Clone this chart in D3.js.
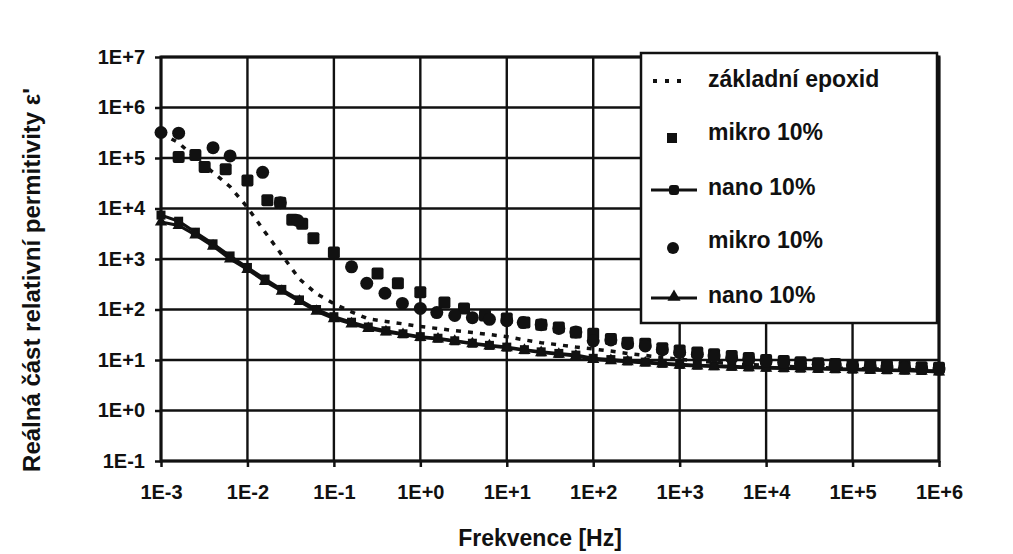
<!DOCTYPE html>
<html>
<head>
<meta charset="utf-8">
<script src="https://cdn.jsdelivr.net/npm/d3@7"></script>
<style>
  body { margin: 0; background: #fff; }
  text { font-family: "Liberation Sans", Arial, sans-serif; font-weight: bold; fill: #111; }
</style>
</head>
<body>
<svg class="chart"></svg>
<script>
// frequencies [Hz], 5 points per decade
const freq = [0.001, 0.0016, 0.0025, 0.004, 0.0063, 0.01, 0.016, 0.025, 0.04, 0.063,
  0.1, 0.16, 0.25, 0.4, 0.63, 1, 1.6, 2.5, 4, 6.3,
  10, 16, 25, 40, 63, 100, 160, 250, 400, 630,
  1000, 1600, 2500, 4000, 6300, 1e4, 1.6e4, 2.5e4, 4e4, 6.3e4,
  1e5, 1.6e5, 2.5e5, 4e5, 6.3e5, 1e6]

const epoxid = [3.1e5, 2.0e5, 1.0e5, 5.2e4, 2.7e4, 1.05e4, 3400, 1200, 400, 205,
  130, 90, 65, 58, 52, 46, 42, 38, 35, 32,
  29, 25, 22, 20, 18, 16.5, 15, 13.5, 12.3, 11.2,
  10.3, 9.6, 9.0, 8.5, 8.1, 7.8, 7.5, 7.3, 7.1, 6.9,
  6.8, 6.7, 6.6, 6.5, 6.4, 6.3]

const nanoSq = [7400, 5600, 3400, 2000, 1150, 680, 400, 250, 155, 100,
  72, 56, 45, 38, 33, 29, 27, 24, 21.5, 19.5,
  18, 16, 14.5, 13.5, 12.5, 10.8, 10.2, 9.6, 9.1, 8.6,
  8.2, 7.9, 7.7, 7.5, 7.3, 7.2, 7.0, 6.9, 6.8, 6.7,
  6.6, 6.5, 6.4, 6.3, 6.2, 6.1]

const nanoTri = [5400, 4600, 3000, 1800, 1000, 620, 360, 230, 145, 92,
  66, 52, 42, 36, 32, 28, 26, 23.5, 21, 19,
  17.5, 15.5, 14, 13, 12, 10.2, 9.7, 9.2, 8.7, 8.3,
  7.9, 7.6, 7.4, 7.2, 7.0, 6.9, 6.8, 6.7, 6.6, 6.5,
  6.4, 6.3, 6.2, 6.1, 6.0, 5.8]

const mikroSqF = [0.0016, 0.0025, 0.0032, 0.0056, 0.01, 0.017, 0.024, 0.033, 0.043, 0.058,
  0.1, 0.32, 0.55, 1, 1.9, 3.2, 5.6, 10,
  16, 25, 40, 63, 100, 160, 250, 400, 630,
  1000, 1600, 2500, 4000, 6300, 1e4, 1.6e4, 2.5e4, 4e4, 6.3e4,
  1e5, 1.6e5, 2.5e5, 4e5, 6.3e5, 1e6]
const mikroSqV = [1.05e5, 1.15e5, 6.6e4, 6.0e4, 3.6e4, 1.45e4, 1.3e4, 6000, 5000, 2570,
  1350, 515, 330, 220, 138, 105, 76, 66,
  55, 50, 44, 35, 33, 26, 22, 21, 17,
  15.5, 14, 13, 12, 11, 10, 9.5, 9, 8.6, 8.3,
  8.0, 7.8, 7.6, 7.4, 7.2, 7.0]

const mikroCiF = [0.001, 0.0016, 0.004, 0.0063, 0.015, 0.024, 0.038,
  0.16, 0.24, 0.39, 0.62, 1, 1.55, 2.5, 4, 6.3, 10,
  15.5, 25, 40, 63, 100, 160, 250, 400, 630,
  1000, 1600, 2500, 4000, 6300, 1e4, 1.6e4, 2.5e4, 4e4, 6.3e4,
  1e5, 1.6e5, 2.5e5, 4e5, 6.3e5, 1e6]
const mikroCiV = [3.2e5, 3.1e5, 1.6e5, 1.1e5, 5.2e4, 1.3e4, 5800,
  700, 330, 210, 132, 105, 87, 76, 69, 64, 60,
  55, 50, 42, 36, 24, 25, 21, 19, 16,
  14, 13, 12, 11, 10.5, 9.5, 9, 8.5, 8.2, 7.9,
  7.6, 7.4, 7.2, 7.0, 6.8, 6.6]

const xTicks = [1e-3, 1e-2, 1e-1, 1, 10, 100, 1e3, 1e4, 1e5, 1e6]
const yTicks = [1e-1, 1, 10, 100, 1e3, 1e4, 1e5, 1e6, 1e7]
const legendLabels = ['základní epoxid', 'mikro 10%', 'nano 10%', 'mikro 10%', 'nano 10%']

let margin = {top: 57, right: 74, bottom: 93, left: 161}
let width = 1013 - margin.left - margin.right,
    height = 554 - margin.top - margin.bottom,
    ink = '#111'

let svg = d3.select('.chart').attr('width', 1013).attr('height', 554)
let g = svg.append('g').attr('transform', `translate(${margin.left},${margin.top})`)

let x = d3.scaleLog().domain([1e-3, 1e6]).range([0, width])
let y = d3.scaleLog().domain([1e-1, 1e7]).range([height, 0])

let fmt = (d) => {
  let e = Math.round(Math.log10(d))
  return '1E' + (e >= 0 ? '+' : '') + e
}

// grid
g.append('g').selectAll('line').data(xTicks).enter().append('line')
  .attr('x1', (d) => x(d)).attr('x2', (d) => x(d)).attr('y1', 0).attr('y2', height)
  .attr('stroke', ink).attr('stroke-width', 2.4)
g.append('g').selectAll('line').data(yTicks).enter().append('line')
  .attr('y1', (d) => y(d)).attr('y2', (d) => y(d)).attr('x1', 0).attr('x2', width)
  .attr('stroke', ink).attr('stroke-width', 2.4)

let xAxis = g.append('g').attr('transform', `translate(0,${height})`)
  .call(d3.axisBottom(x).tickValues(xTicks).tickFormat(fmt).tickSize(6).tickPadding(18))
let yAxis = g.append('g')
  .call(d3.axisLeft(y).tickValues(yTicks).tickFormat(fmt).tickSize(6).tickPadding(10))
;[xAxis, yAxis].forEach((a) => {
  a.select('.domain').remove()
  a.selectAll('line').attr('stroke', ink).attr('stroke-width', 2.5)
  a.selectAll('text').attr('font-size', 20).attr('fill', ink)
    .style('font-family', '"Liberation Sans", Arial, sans-serif').style('font-weight', 'bold')
})

g.append('rect').attr('width', width).attr('height', height)
  .attr('fill', 'none').attr('stroke', ink).attr('stroke-width', 3)

let line = (vals) => d3.line().x((d, i) => x(freq[i])).y((d) => y(d))(vals)

// základní epoxid
g.append('path').attr('d', line(epoxid)).attr('fill', 'none').attr('stroke', ink)
  .attr('stroke-width', 3.5).attr('stroke-dasharray', '5,7')

// nano lines
;[nanoSq, nanoTri].forEach((vals) => {
  g.append('path').attr('d', line(vals)).attr('fill', 'none').attr('stroke', ink).attr('stroke-width', 3)
})
g.append('g').selectAll('rect').data(nanoSq).enter().append('rect')
  .attr('x', (d, i) => x(freq[i]) - 4.5).attr('y', (d) => y(d) - 4.5)
  .attr('width', 9).attr('height', 9).attr('fill', ink)
let tri = d3.symbol().type(d3.symbolTriangle).size(65)
g.append('g').selectAll('path').data(nanoTri).enter().append('path')
  .attr('d', tri).attr('transform', (d, i) => `translate(${x(freq[i])},${y(d)})`).attr('fill', ink)

// mikro points
g.append('g').selectAll('rect').data(mikroSqV).enter().append('rect')
  .attr('x', (d, i) => x(mikroSqF[i]) - 6).attr('y', (d) => y(d) - 6)
  .attr('width', 12).attr('height', 12).attr('rx', 2).attr('fill', ink)
g.append('g').selectAll('circle').data(mikroCiV).enter().append('circle')
  .attr('cx', (d, i) => x(mikroCiF[i])).attr('cy', (d) => y(d)).attr('r', 6.5).attr('fill', ink)

// legend
let lg = svg.append('g').attr('transform', 'translate(641,53)')
lg.append('rect').attr('width', 296).attr('height', 270)
  .attr('fill', '#fff').attr('stroke', ink).attr('stroke-width', 2.5)
let rowY = [26, 79, 134, 187, 242]
lg.selectAll('text.lab').data(legendLabels).enter().append('text')
  .attr('class', 'lab').attr('x', 67).attr('y', (d, i) => rowY[i]).attr('dy', '0.35em')
  .attr('font-size', 23).text((d) => d)

lg.append('line').attr('x1', 12).attr('x2', 48).attr('y1', rowY[0] + 2).attr('y2', rowY[0] + 2)
  .attr('stroke', ink).attr('stroke-width', 4).attr('stroke-dasharray', '4,8')
lg.append('rect').attr('x', 31 - 5).attr('y', rowY[1] + 6 - 5).attr('width', 10).attr('height', 10).attr('fill', ink)
lg.append('line').attr('x1', 10).attr('x2', 56).attr('y1', rowY[2] + 3).attr('y2', rowY[2] + 3)
  .attr('stroke', ink).attr('stroke-width', 3)
lg.append('rect').attr('x', 33 - 5).attr('y', rowY[2] + 3 - 5).attr('width', 10).attr('height', 10).attr('rx', 3).attr('fill', ink)
lg.append('circle').attr('cx', 32).attr('cy', rowY[3] + 8).attr('r', 6).attr('fill', ink)
lg.append('line').attr('x1', 10).attr('x2', 56).attr('y1', rowY[4] + 3).attr('y2', rowY[4] + 3)
  .attr('stroke', ink).attr('stroke-width', 3)
lg.append('path').attr('d', d3.symbol().type(d3.symbolTriangle).size(75))
  .attr('transform', `translate(33,${rowY[4] + 2})`).attr('fill', ink)

// axis titles
svg.append('text').attr('x', 540).attr('y', 538).attr('dy', '0.35em')
  .attr('text-anchor', 'middle').attr('font-size', 23).text('Frekvence [Hz]')
svg.append('text').attr('transform', 'translate(32,280) rotate(-90)').attr('dy', '0.35em')
  .attr('text-anchor', 'middle').attr('font-size', 24).text('Reálná část relativní permitivity ε\'')
</script>
</body>
</html>
